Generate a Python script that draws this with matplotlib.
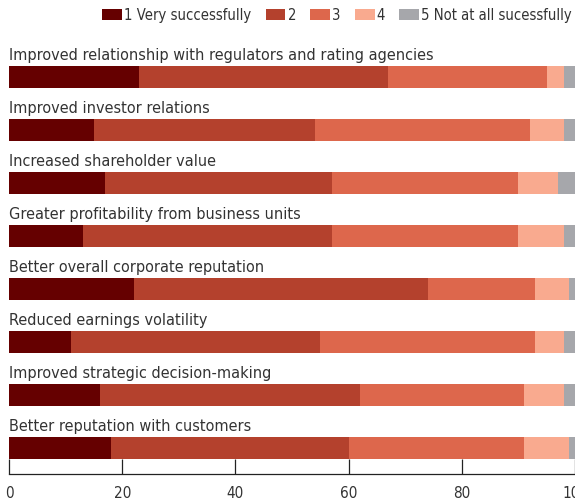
import numpy as np
import matplotlib
matplotlib.use("Agg")
import matplotlib.pyplot as plt
from matplotlib.patches import Patch
from matplotlib import font_manager

# condensed face if one is around, otherwise plain DejaVu
condensed = [f for f in font_manager.fontManager.ttflist
             if f.name == 'DejaVu Sans' and 'ondensed' in str(f.stretch) + f.fname]
plt.rcParams['font.family'] = ['DejaVu Sans']
if condensed:
    plt.rcParams['font.stretch'] = 'condensed'

categories = [
    "Improved relationship with regulators and rating agencies",
    "Improved investor relations",
    "Increased shareholder value",
    "Greater profitability from business units",
    "Better overall corporate reputation",
    "Reduced earnings volatility",
    "Improved strategic decision-making",
    "Better reputation with customers",
]

very_successfully = [23, 15, 17, 13, 22, 11, 16, 18]
rating_2 = [44, 39, 40, 44, 52, 44, 46, 42]
rating_3 = [28, 38, 33, 33, 19, 38, 29, 31]
rating_4 = [3, 6, 7, 8, 6, 5, 7, 8]
not_at_all = [2, 2, 3, 2, 1, 2, 2, 1]

series_labels = ["1 Very successfully", "2", "3", "4", "5 Not at all sucessfully"]
series_colors = ["#650000", "#b4412d", "#dd674c", "#f9aa8f", "#a6a7ab"]
x_ticks = [0, 20, 40, 60, 80, 100]

text_col = "#333333"

fig = plt.figure(figsize=(5.75, 5.01), dpi=100)
ax = fig.add_axes([9 / 575, 27 / 501, 566 / 575, 434 / 501])

series = [very_successfully, rating_2, rating_3, rating_4, not_at_all]
y = np.arange(len(categories))
left = np.zeros(len(categories))
for vals, col in zip(series, series_colors):
    vals = np.array(vals, dtype=float)
    ax.barh(y, vals, left=left, height=0.415, color=col, linewidth=0)
    left += vals

for i, cat in enumerate(categories):
    ax.text(0, i - 0.32, cat, ha='left', va='baseline', fontsize=11.6, color=text_col)

ax.set_xlim(0, 100)
ax.set_ylim(7.49, -0.69)
ax.set_yticks([])
ax.set_xticks(x_ticks)
ax.set_xticklabels([str(t) for t in x_ticks])
ax.tick_params(axis='x', direction='in', length=11, width=0.9, color='#222222',
               labelsize=11, labelcolor=text_col, pad=8.5)
for s in ['left', 'right', 'top']:
    ax.spines[s].set_visible(False)
ax.spines['bottom'].set_linewidth(0.9)
ax.spines['bottom'].set_color('#222222')

handles = [Patch(facecolor=c, edgecolor='none', label=l)
           for c, l in zip(series_colors, series_labels)]
fig.legend(handles=handles, loc='upper right', bbox_to_anchor=(572 / 575, 1 - 8 / 501),
           ncol=5, frameon=False, fontsize=10.6, handlelength=1.35, handleheight=0.75,
           handletextpad=0.15, columnspacing=0.95, borderpad=0, borderaxespad=0,
           labelcolor=text_col)

fig.savefig("out.png", dpi=100)
